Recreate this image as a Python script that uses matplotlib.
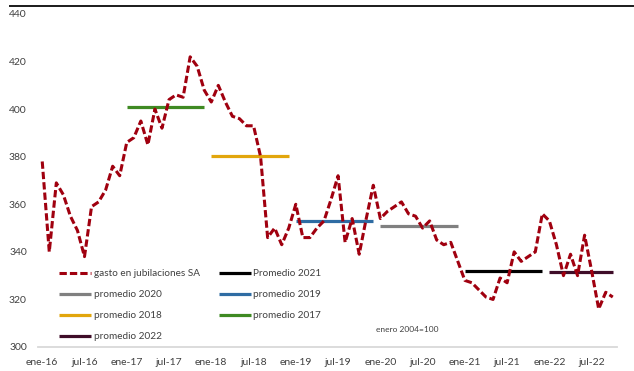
import numpy as np
import matplotlib
matplotlib.use('Agg')
from matplotlib import pyplot as plt
from matplotlib.lines import Line2D

plt.rcParams['font.family'] = ['Lato', 'DejaVu Sans']

# gasto en jubilaciones SA, mensual ene-16 .. oct-22 (enero 2004=100)
gasto = [378, 340, 369, 364, 355, 349, 338, 359, 361, 366, 376, 372,
         386, 388, 395, 385, 400, 392, 404, 406, 405, 422, 418, 408,
         403, 410, 403, 397, 396, 393, 393, 380, 346, 350, 343, 350,
         360, 346, 346, 350, 353, 362, 372, 344, 354, 339, 354, 368,
         354, 357, 359, 361, 356, 355, 350, 353, 345, 343, 344, 336,
         328, 327, 324, 321, 320, 329, 327, 340, 336, 338, 340, 356,
         353, 343, 330, 339, 330, 347, 332, 316, 323, 321]

anios = [2017, 2018, 2019, 2020, 2021, 2022]
promedios = [401, 380.2, 353.1, 350.9, 332.1, 331.6]
etiquetas_prom = ['promedio 2017', 'promedio 2018', 'promedio 2019',
                  'promedio 2020', 'Promedio 2021', 'promedio 2022']
colores_prom = ['#3f8a23', '#e2a60c', '#2f6ca3', '#808080', '#000000', '#3f0d28']

xlabels = ['ene-16', 'jul-16', 'ene-17', 'jul-17', 'ene-18', 'jul-18', 'ene-19',
           'jul-19', 'ene-20', 'jul-20', 'ene-21', 'jul-21', 'ene-22', 'jul-22']

meses = np.arange(len(gasto))

fig = plt.figure(figsize=(6.34, 3.71), dpi=100)
ax = fig.add_axes([38/634, 24/371, 579/634, 333/371])

lineas = {}
for anio, prom, lab, col in zip(anios, promedios, etiquetas_prom, colores_prom):
    ini = (anio - 2016) * 12
    fin = min(ini + 11, len(gasto) - 1)
    l, = ax.plot([ini, fin], [prom, prom], color=col, lw=2.3, solid_capstyle='butt', zorder=2)
    lineas[lab] = l

roja, = ax.plot(meses, gasto, color='#a0000f', lw=2.2, dashes=(2.4, 1.0), zorder=3)

ax.set_xlim(-0.6, 81.6)
ax.set_ylim(300, 440)
ax.set_yticks(np.arange(300, 441, 20))
ax.set_xticks(np.arange(0, len(xlabels) * 6, 6))
ax.set_xticklabels(xlabels)

for s in ['top', 'right', 'left']:
    ax.spines[s].set_visible(False)
ax.spines['bottom'].set_color('#d9d9d9')
ax.spines['bottom'].set_linewidth(1.3)
ax.tick_params(axis='both', length=0, labelsize=7.5, colors='#404040')
ax.tick_params(axis='y', pad=8)
ax.tick_params(axis='x', pad=8)

# orden de leyenda como en excel (columna por columna)
h = [roja, lineas['promedio 2020'], lineas['promedio 2018'], lineas['promedio 2022'],
     lineas['Promedio 2021'], lineas['promedio 2019'], lineas['promedio 2017']]
lab = ['gasto en jubilaciones SA', 'promedio 2020', 'promedio 2018', 'promedio 2022',
       'Promedio 2021', 'promedio 2019', 'promedio 2017']
leg = ax.legend(h, lab, ncol=2, loc='upper left', bbox_to_anchor=(59/634, 1 - 269/371),
                bbox_transform=fig.transFigure, frameon=False, fontsize=7.2,
                handlelength=3.2, handletextpad=0.25, columnspacing=1.9,
                labelspacing=1.2, borderpad=0, borderaxespad=0)
for t in leg.get_texts():
    t.set_color('#404040')

ax.text((407 - 38) / 579, (347 - 330) / 333, 'enero 2004=100', transform=ax.transAxes,
        fontsize=6, color='#404040', ha='center', va='center')

# linea negra superior del recorte
fig.add_artist(Line2D([10/634, 633/634], [1 - 6/371, 1 - 6/371], color='#1a1a1a', lw=1.4))

fig.savefig('out.png', dpi=100)
